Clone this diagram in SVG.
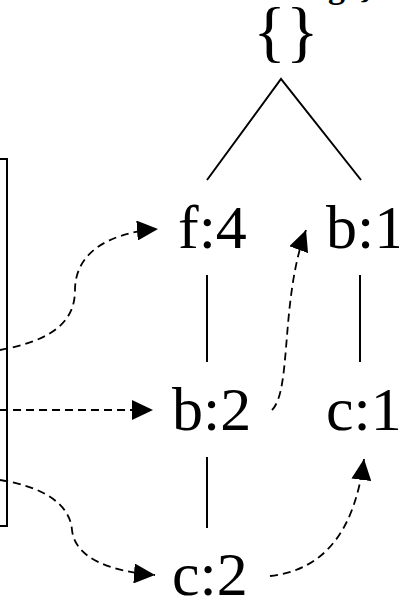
<svg xmlns="http://www.w3.org/2000/svg" width="399" height="600" viewBox="0 0 399 600">
<style>
.lbl{font-family:"Liberation Serif","Times New Roman",serif;font-size:62px;fill:#000}
.edge{stroke:#000;stroke-width:2;fill:none}
.dash{stroke:#000;stroke-width:1.8;fill:none;stroke-dasharray:8,5}
.cut{font-family:"Liberation Serif","Times New Roman",serif;font-size:34px;font-weight:bold;fill:#000}
</style>
<defs>
<marker id="ah" markerWidth="21" markerHeight="20" refX="21" refY="10" orient="auto" markerUnits="userSpaceOnUse">
<path d="M0,0 L21,10 L0,20 Z" fill="#000"/>
</marker>
</defs>
<rect width="399" height="600" fill="#fff"/>
<text class="cut" x="328" y="-2">g</text>
<text class="cut" x="360" y="-2">}</text>
<g id="table"><rect x="-10" y="159" width="17" height="367" fill="none" stroke="#000" stroke-width="2"/></g>
<g id="root"><text class="lbl" x="286" y="54" text-anchor="middle" style="font-size:68px">{}</text></g>
<g id="f4"><text class="lbl" x="178" y="248">f:4</text></g>
<g id="b1"><text class="lbl" x="326" y="248">b:1</text></g>
<g id="b2"><text class="lbl" x="172" y="430">b:2</text></g>
<g id="c1"><text class="lbl" x="326" y="430">c:1</text></g>
<g id="c2"><text class="lbl" x="172" y="595">c:2</text></g>
<g id="connectors">
<path class="edge" d="M207,180 L281,79 L361,180"/>
<path class="edge" d="M207,275 V362"/>
<path class="edge" d="M360,275 V362"/>
<path class="edge" d="M207,457 V528"/>
<path class="dash" d="M0,350 C55,340 75,320 75,290 C75,255 105,233 158,229" marker-end="url(#ah)"/>
<path class="dash" d="M0,410 H153" marker-end="url(#ah)"/>
<path class="dash" d="M0,480 C45,487 70,505 72,530 C75,560 115,572 155,575" marker-end="url(#ah)"/>
<path class="dash" d="M270,576 C325,570 355,530 364,459" marker-end="url(#ah)"/>
<path class="dash" d="M272,410 C292,390 280,300 306,230" marker-end="url(#ah)"/>
</g>
</svg>
